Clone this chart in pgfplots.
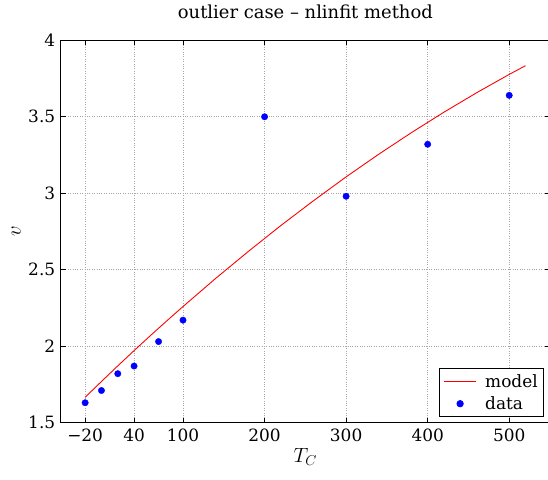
\documentclass[border=0pt]{standalone}
\usepackage{fontspec}
\setmainfont{DejaVu Serif}
\usepackage{pgfplots}
\pgfplotsset{compat=1.18}
\pgfplotsset{
  modelleg/.style={legend image code/.code={\draw[##1, line width=1pt] (0bp,0bp) -- (32bp,0bp);\path[draw=none] (39bp,0bp) circle (0.1bp);}},
  dataleg/.style={legend image code/.code={\draw[mark repeat=2,mark phase=2,##1] plot coordinates {(0bp,0bp) (16bp,0bp) (32bp,0bp)};\path[draw=none] (39bp,0bp) circle (0.1bp);}},
}
\begin{document}
\begin{tikzpicture}
\begin{axis}[
  name=ax,
  scale only axis,
  width=489.4bp, height=382.4bp,
  xmin=-50, xmax=550, ymin=1.5, ymax=4,
  xtick={-20,40,100,200,300,400,500},
  xticklabels={−20,40,100,200,300,400,500},
  ytick={1.5,2,2.5,3,3.5,4},
  yticklabels={1.5,2,2.5,3,3.5,4},
  /pgf/number format/assume math mode=true,
  tick align=inside,
  major tick length=5bp,
  tick style={black, line width=0.6pt},
  axis line style={black, line width=0.8pt},
  grid=major,
  major grid style={dotted, gray!70, line width=0.6pt},
  tick label style={font=\fontsize{17}{20}\selectfont},
  xticklabel style={yshift=-3bp},
  yticklabel style={xshift=-2bp},
  title={outlier case – nlinfit method},
  title style={font=\fontsize{18}{21}\selectfont, at={(rel axis cs:0.5,1.042)}, anchor=base},
  xlabel={$T_C$},
  ylabel={$v$},
  label style={font=\fontsize{20}{24}\selectfont},
  xlabel style={at={(rel axis cs:0.5,-0.103)}, anchor=base},
  ylabel style={at={(rel axis cs:-0.091,0.5)}, anchor=center},
  legend style={at={(rel axis cs:0.988,0.014)}, anchor=south east,
    font=\fontsize{17}{20}\selectfont, line width=0.8pt,
    inner xsep=4bp, inner ysep=4bp, row sep=4bp},
  legend cell align=left,
]
\addplot[red, line width=0.9pt, no marks, modelleg] coordinates {
(-20,1.666) (0,1.769) (20,1.871) (40,1.971) (60,2.069) (80,2.165)
(100,2.259) (140,2.443) (180,2.619) (220,2.789) (260,2.951) (300,3.107)
(340,3.255) (380,3.396) (420,3.530) (460,3.657) (500,3.777) (520,3.834)
};
\addlegendentry{model}
\addplot[only marks, mark=*, mark size=3.2bp, blue, mark options={fill=blue, draw=blue}, dataleg] coordinates {
(-20,1.63) (0,1.71) (20,1.82) (40,1.87) (70,2.03) (100,2.17)
(200,3.50) (300,2.98) (400,3.32) (500,3.64)
};
\addlegendentry{data}
\end{axis}
\pgfresetboundingbox
\path[use as bounding box] ([xshift=-60.7bp,yshift=-57.3bp]ax.south west) rectangle ([xshift=-2bp,yshift=40.3bp]ax.north east);
\end{tikzpicture}
\end{document}
